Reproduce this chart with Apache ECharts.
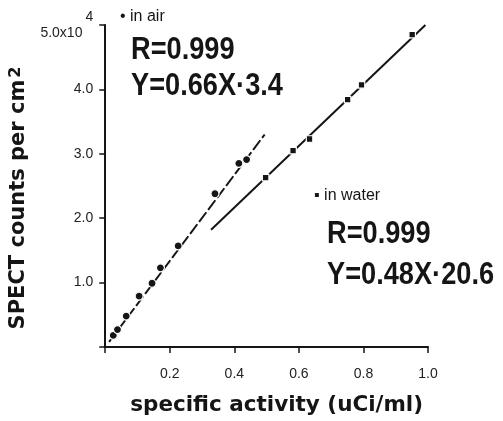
<!DOCTYPE html>
<html>
<head>
<meta charset="utf-8">
<script src="https://cdn.jsdelivr.net/npm/echarts@6/dist/echarts.min.js"></script>
<style>
html,body{margin:0;padding:0;background:#fff;}
#c{width:503px;height:421px;}
</style>
</head>
<body>
<div id="c"></div>
<script>
// Data (y in units of 10^4 counts per cm2, x in uCi/ml)
const airX = [0.025, 0.038, 0.065, 0.105, 0.145, 0.171, 0.226, 0.340, 0.414, 0.438];
const airY = [0.18, 0.27, 0.48, 0.79, 0.99, 1.23, 1.57, 2.38, 2.85, 2.91];
const waterX = [0.497, 0.582, 0.633, 0.751, 0.794, 0.951];
const waterY = [2.63, 3.05, 3.23, 3.84, 4.07, 4.85];
const airFitX = [0.012, 0.494];
const airFitY = [0.08, 3.30];
const waterFitX = [0.328, 0.992];
const waterFitY = [1.82, 5.00];
const xTickLabels = ['0.2', '0.4', '0.6', '0.8', '1.0'];
const yTickLabels = ['1.0', '2.0', '3.0', '4.0', '5.0x10'];
const airText = ['• in air', 'R=0.999', 'Y=0.66X·3.4'];
const waterText = ['▪ in water', 'R=0.999', 'Y=0.48X·20.6'];

const zip = (a, b) => a.map((v, i) => [v, b[i]]);
const INK = '#151515';

function bigText(x, y, text) {
  return {type: 'text', x: x, y: y, scaleX: 0.85, scaleY: 1, z: 10,
    style: {text: text, fontFamily: 'Liberation Sans', fontWeight: 'bold', fontSize: 32,
            fill: INK, verticalAlign: 'middle', align: 'left'}};
}
function smallText(x, y, text) {
  return {type: 'text', x: x, y: y, z: 10,
    style: {text: text, fontFamily: 'Liberation Sans', fontSize: 16, fill: INK,
            verticalAlign: 'middle', align: 'left'}};
}

const chart = echarts.init(document.getElementById('c'), null, {renderer: 'canvas'});
chart.setOption({
  animation: false,
  backgroundColor: '#fff',
  grid: {left: 101, right: 75, top: 25, bottom: 71, containLabel: false},
  xAxis: {
    type: 'value', min: 0, max: 1, interval: 0.2,
    axisLine: {lineStyle: {color: INK, width: 2}},
    axisTick: {length: 6, lineStyle: {color: INK, width: 1.5}},
    splitLine: {show: false},
    axisLabel: {
      margin: 20, fontSize: 14, color: '#222', fontFamily: 'Liberation Sans',
      formatter: v => { const i = Math.round(v / 0.2) - 1; return i >= 0 ? xTickLabels[i] : ''; }
    },
    name: 'specific activity (uCi/ml)', nameLocation: 'middle', nameGap: 47,
    nameTextStyle: {fontFamily: 'DejaVu Sans', fontWeight: 'bold', fontSize: 21.5, color: INK, padding: [0, 0, 0, 20]}
  },
  yAxis: {
    type: 'value', min: 0, max: 5, interval: 1,
    axisLine: {lineStyle: {color: INK, width: 2}},
    axisTick: {length: 6, lineStyle: {color: INK, width: 1.5}},
    splitLine: {show: false},
    axisLabel: {
      margin: 12, fontSize: 14, color: '#222', fontFamily: 'Liberation Sans',
      formatter: v => {
        const i = Math.round(v) - 1;
        if (i < 0) return '';
        if (i === 4) return '{b|' + yTickLabels[i] + '}{s|4}';
        return yTickLabels[i];
      },
      rich: {
        b: {fontSize: 14, fontFamily: 'Liberation Sans', color: '#222', padding: [16, 0, 0, 0]},
        s: {fontSize: 14, fontFamily: 'Liberation Sans', color: '#222', padding: [0, 0, 16, 3]}
      }
    },
    name: 'SPECT counts per cm{s|2}', nameLocation: 'middle', nameGap: 70,
    nameTextStyle: {
      fontFamily: 'DejaVu Sans', fontWeight: 'bold', fontSize: 21, color: INK, padding: [0, 24, 0, 0],
      rich: {s: {fontFamily: 'DejaVu Sans', fontSize: 16, color: INK, padding: [0, 0, 6, 2]}}
    }
  },
  series: [
    {type: 'line', data: zip(airFitX, airFitY), showSymbol: false, silent: true,
     lineStyle: {color: INK, width: 2, type: [12, 3]}, z: 1},
    {type: 'line', data: zip(waterFitX, waterFitY), showSymbol: false, silent: true,
     lineStyle: {color: INK, width: 2}, z: 1},
    {type: 'scatter', data: zip(airX, airY), symbol: 'circle', symbolSize: 8,
     itemStyle: {color: INK, borderColor: '#fff', borderWidth: 1.2, opacity: 1}, z: 3},
    {type: 'scatter', data: zip(waterX, waterY), symbol: 'rect', symbolSize: 6.5,
     itemStyle: {color: INK, borderColor: '#fff', borderWidth: 1.2, opacity: 1}, z: 3}
  ],
  graphic: [
    smallText(120, 17, airText[0]),
    bigText(131, 50, airText[1]),
    bigText(131, 86, airText[2]),
    smallText(314, 196, waterText[0]),
    bigText(327, 234, waterText[1]),
    bigText(327, 275, waterText[2])
  ]
});
</script>
</body>
</html>
